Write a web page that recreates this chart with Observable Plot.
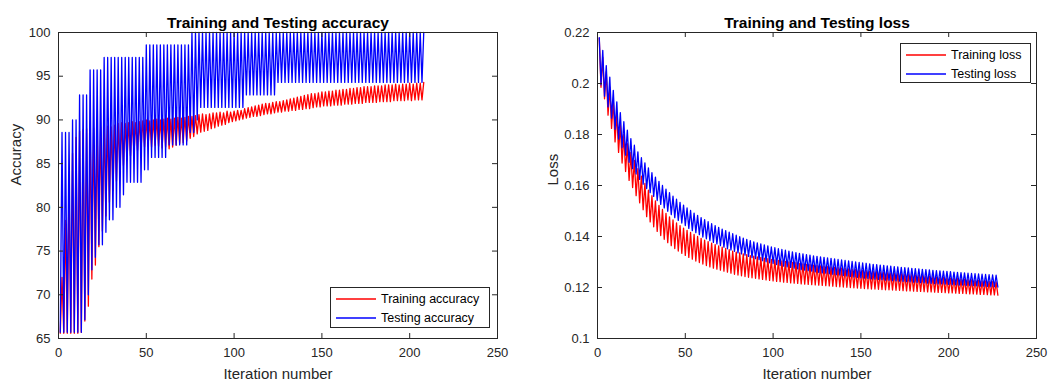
<!DOCTYPE html>
<html>
<head>
<meta charset="utf-8">
<script src="https://cdn.jsdelivr.net/npm/d3@7"></script>
<script src="https://cdn.jsdelivr.net/npm/@observablehq/plot@0.6"></script>
<style>
  html, body { margin: 0; padding: 0; background: #fff; }
  #figure { position: relative; width: 1051px; height: 383px; overflow: hidden;
            font-family: "Liberation Sans", Arial, Helvetica, sans-serif; }
  #figure svg { position: absolute; top: 0; overflow: visible; }
  .legend { position: absolute; box-sizing: border-box; background: #fff;
            border: 1px solid #262626; font-size: 12.5px; color: #000; padding-top: 1px; }
  .legend .row { display: flex; align-items: center; height: 19px; white-space: nowrap; }
  .legend svg { position: static !important; margin: 0 5px 0 5px; }
</style>
</head>
<body>
<div id="figure"></div>
<script>
// ---- Accuracy (%) per iteration: odd iterations hold the dips, even iterations the peaks
const trainAccDip = [
  65.6, 65.6, 65.6, 65.6, 65.6, 65.6, 65.7, 67.0, 68.7, 71.8,
  73.4, 75.5, 77.3, 79.0, 80.6, 81.9, 83.0, 84.0, 84.8, 85.4,
  85.9, 86.2, 86.5, 86.7, 86.9, 87.0, 86.9, 87.1, 87.0, 86.8,
  86.9, 86.7, 86.9, 87.1, 87.3, 87.4, 87.6, 87.9, 88.1, 88.4,
  88.6, 88.7, 88.8, 89.0, 89.1, 89.3, 89.4, 89.5, 89.7, 89.8,
  89.9, 90.0, 90.1, 90.2, 90.3, 90.4, 90.4, 90.5, 90.6, 90.7,
  90.7, 90.8, 90.9, 90.9, 91.0, 91.0, 91.1, 91.1, 91.2, 91.2,
  91.3, 91.3, 91.4, 91.5, 91.5, 91.6, 91.6, 91.6, 91.7, 91.7,
  91.7, 91.8, 91.8, 91.8, 91.9, 91.9, 91.9, 92.0, 92.0, 92.0,
  92.0, 92.1, 92.1, 92.1, 92.1, 92.2, 92.2, 92.2, 92.2, 92.3,
  92.2, 92.3, 92.3, 92.3
];
const trainAccPeak = [
  72.0, 78.5, 83.0, 86.2, 88.0, 88.7, 88.9, 89.0, 89.0, 89.1,
  89.0, 89.2, 89.3, 89.3, 89.2, 89.4, 89.6, 89.7, 89.6, 89.7,
  89.8, 89.7, 89.8, 89.9, 90.0, 89.9, 90.0, 90.1, 90.0, 90.1,
  90.2, 90.1, 90.2, 90.3, 90.2, 90.3, 90.4, 90.4, 90.5, 90.6,
  90.7, 90.6, 90.7, 90.8, 90.8, 90.9, 90.8, 91.0, 90.9, 91.0,
  91.1, 91.1, 91.3, 91.4, 91.5, 91.6, 91.7, 91.8, 91.9, 91.9,
  92.0, 92.1, 92.1, 92.2, 92.3, 92.4, 92.5, 92.6, 92.7, 92.8,
  92.9, 93.0, 93.0, 93.1, 93.2, 93.2, 93.3, 93.3, 93.4, 93.4,
  93.5, 93.5, 93.6, 93.6, 93.7, 93.7, 93.8, 93.8, 93.8, 93.9,
  93.9, 93.9, 94.0, 94.0, 94.0, 94.1, 94.0, 94.1, 94.1, 94.2,
  94.1, 94.2, 94.2, 94.3
];
const testAccDip = [
  65.71, 65.71, 65.71, 65.71, 65.71, 65.71, 65.71, 67.14, 70, 72.86,
  74.29, 75.71, 75.71, 77.14, 78.57, 78.57, 80, 80, 81.43, 82.86,
  82.86, 82.86, 82.86, 82.86, 84.29, 84.29, 85.71, 85.71, 85.71, 85.71,
  85.71, 87.14, 87.14, 87.14, 87.14, 87.14, 87.14, 88.57, 88.57, 90,
  91.43, 91.43, 91.43, 91.43, 91.43, 91.43, 91.43, 91.43, 91.43, 91.43,
  91.43, 91.43, 91.43, 92.86, 92.86, 92.86, 92.86, 92.86, 92.86, 92.86,
  92.86, 92.86, 94.29, 94.29, 94.29, 94.29, 94.29, 94.29, 94.29, 94.29,
  94.29, 94.29, 94.29, 94.29, 94.29, 94.29, 94.29, 94.29, 94.29, 94.29,
  94.29, 94.29, 94.29, 94.29, 94.29, 94.29, 94.29, 94.29, 94.29, 94.29,
  94.29, 94.29, 94.29, 94.29, 94.29, 94.29, 94.29, 94.29, 94.29, 94.29,
  94.29, 94.29, 94.29, 94.29
];
const testAccPeak = [
  88.57, 88.57, 88.57, 90, 90, 92.86, 92.86, 92.86, 95.71, 95.71,
  95.71, 95.71, 97.14, 97.14, 97.14, 97.14, 97.14, 97.14, 97.14, 97.14,
  97.14, 97.14, 97.14, 97.14, 98.57, 98.57, 98.57, 98.57, 98.57, 98.57,
  98.57, 98.57, 98.57, 98.57, 98.57, 98.57, 98.57, 100, 100, 100,
  100, 100, 100, 100, 100, 100, 100, 100, 100, 100,
  100, 100, 100, 100, 100, 100, 100, 100, 100, 100,
  100, 100, 100, 100, 100, 100, 100, 100, 100, 100,
  100, 100, 100, 100, 100, 100, 100, 100, 100, 100,
  100, 100, 100, 100, 100, 100, 100, 100, 100, 100,
  100, 100, 100, 100, 100, 100, 100, 100, 100, 100,
  100, 100, 100, 100
];

// ---- Loss per iteration: odd iterations hold the peaks, even iterations the dips
const trainLossPeak = [
  0.2178, 0.2103, 0.2046, 0.1986, 0.1932, 0.1883, 0.1839, 0.1800, 0.1764, 0.1730,
  0.1698, 0.1666, 0.1637, 0.1608, 0.1582, 0.1560, 0.1540, 0.1522, 0.1506, 0.1491,
  0.1477, 0.1465, 0.1453, 0.1443, 0.1433, 0.1424, 0.1416, 0.1408, 0.1400, 0.1393,
  0.1386, 0.1380, 0.1374, 0.1368, 0.1363, 0.1358, 0.1353, 0.1348, 0.1343, 0.1339,
  0.1336, 0.1332, 0.1329, 0.1325, 0.1323, 0.1320, 0.1318, 0.1315, 0.1313, 0.1310,
  0.1308, 0.1306, 0.1304, 0.1302, 0.1300, 0.1298, 0.1297, 0.1294, 0.1293, 0.1291,
  0.1290, 0.1288, 0.1287, 0.1285, 0.1284, 0.1282, 0.1281, 0.1279, 0.1278, 0.1276,
  0.1275, 0.1273, 0.1272, 0.1270, 0.1269, 0.1267, 0.1266, 0.1264, 0.1263, 0.1262,
  0.1261, 0.1259, 0.1258, 0.1257, 0.1256, 0.1254, 0.1254, 0.1252, 0.1251, 0.1250,
  0.1249, 0.1247, 0.1247, 0.1245, 0.1244, 0.1243, 0.1242, 0.1240, 0.1240, 0.1238,
  0.1237, 0.1236, 0.1235, 0.1233, 0.1233, 0.1231, 0.1230, 0.1229, 0.1228, 0.1226,
  0.1226, 0.1224, 0.1223, 0.1222
];
const trainLossDip = [
  0.1985, 0.1940, 0.1876, 0.1824, 0.1771, 0.1730, 0.1688, 0.1655, 0.1620, 0.1592,
  0.1560, 0.1532, 0.1505, 0.1478, 0.1457, 0.1438, 0.1420, 0.1404, 0.1389, 0.1376,
  0.1364, 0.1353, 0.1343, 0.1334, 0.1326, 0.1318, 0.1311, 0.1304, 0.1298, 0.1292,
  0.1286, 0.1281, 0.1276, 0.1272, 0.1268, 0.1264, 0.1260, 0.1256, 0.1252, 0.1249,
  0.1246, 0.1243, 0.1240, 0.1238, 0.1236, 0.1234, 0.1232, 0.1230, 0.1228, 0.1226,
  0.1224, 0.1223, 0.1221, 0.1220, 0.1218, 0.1217, 0.1216, 0.1214, 0.1213, 0.1212,
  0.1211, 0.1210, 0.1209, 0.1208, 0.1207, 0.1206, 0.1205, 0.1204, 0.1203, 0.1202,
  0.1201, 0.1200, 0.1199, 0.1198, 0.1197, 0.1196, 0.1195, 0.1194, 0.1194, 0.1193,
  0.1192, 0.1191, 0.1191, 0.1190, 0.1189, 0.1189, 0.1188, 0.1187, 0.1187, 0.1186,
  0.1185, 0.1185, 0.1184, 0.1183, 0.1183, 0.1182, 0.1181, 0.1181, 0.1180, 0.1179,
  0.1179, 0.1178, 0.1177, 0.1177, 0.1176, 0.1175, 0.1175, 0.1174, 0.1173, 0.1173,
  0.1172, 0.1171, 0.1171, 0.1170
];
const testLossPeak = [
  0.2180, 0.2130, 0.2070, 0.2025, 0.1973, 0.1928, 0.1886, 0.1850, 0.1817, 0.1784,
  0.1758, 0.1732, 0.1709, 0.1689, 0.1669, 0.1650, 0.1633, 0.1616, 0.1600, 0.1586,
  0.1572, 0.1558, 0.1546, 0.1534, 0.1523, 0.1512, 0.1502, 0.1492, 0.1483, 0.1474,
  0.1466, 0.1458, 0.1450, 0.1443, 0.1436, 0.1429, 0.1423, 0.1417, 0.1411, 0.1405,
  0.1399, 0.1394, 0.1389, 0.1384, 0.1379, 0.1375, 0.1371, 0.1367, 0.1363, 0.1359,
  0.1356, 0.1352, 0.1349, 0.1346, 0.1343, 0.1340, 0.1337, 0.1334, 0.1332, 0.1329,
  0.1327, 0.1324, 0.1322, 0.1320, 0.1318, 0.1316, 0.1314, 0.1312, 0.1310, 0.1308,
  0.1306, 0.1304, 0.1302, 0.1300, 0.1298, 0.1296, 0.1295, 0.1293, 0.1291, 0.1290,
  0.1288, 0.1287, 0.1285, 0.1284, 0.1282, 0.1281, 0.1279, 0.1278, 0.1277, 0.1275,
  0.1274, 0.1273, 0.1271, 0.1270, 0.1269, 0.1267, 0.1266, 0.1265, 0.1264, 0.1263,
  0.1262, 0.1260, 0.1259, 0.1258, 0.1257, 0.1256, 0.1255, 0.1254, 0.1253, 0.1252,
  0.1251, 0.1250, 0.1249, 0.1248
];
const testLossDip = [
  0.1995, 0.1950, 0.1908, 0.1864, 0.1821, 0.1782, 0.1748, 0.1719, 0.1691, 0.1666,
  0.1645, 0.1624, 0.1605, 0.1588, 0.1572, 0.1557, 0.1541, 0.1526, 0.1512, 0.1499,
  0.1486, 0.1474, 0.1463, 0.1453, 0.1443, 0.1432, 0.1423, 0.1415, 0.1407, 0.1398,
  0.1391, 0.1384, 0.1377, 0.1371, 0.1364, 0.1358, 0.1352, 0.1347, 0.1342, 0.1336,
  0.1332, 0.1327, 0.1322, 0.1317, 0.1313, 0.1309, 0.1305, 0.1301, 0.1297, 0.1294,
  0.1290, 0.1287, 0.1284, 0.1281, 0.1279, 0.1276, 0.1273, 0.1270, 0.1268, 0.1266,
  0.1264, 0.1261, 0.1259, 0.1257, 0.1256, 0.1254, 0.1252, 0.1250, 0.1249, 0.1247,
  0.1245, 0.1243, 0.1241, 0.1240, 0.1238, 0.1237, 0.1236, 0.1234, 0.1233, 0.1232,
  0.1231, 0.1229, 0.1229, 0.1227, 0.1226, 0.1225, 0.1224, 0.1223, 0.1222, 0.1221,
  0.1220, 0.1219, 0.1218, 0.1217, 0.1216, 0.1215, 0.1214, 0.1214, 0.1213, 0.1212,
  0.1211, 0.1210, 0.1209, 0.1209, 0.1208, 0.1207, 0.1207, 0.1206, 0.1205, 0.1205,
  0.1204, 0.1203, 0.1203, 0.1202
];

// ---- Axis ticks and labels
const iterationTicks = [0, 50, 100, 150, 200, 250];
const accuracyTicks = [65, 70, 75, 80, 85, 90, 95, 100];
const lossTicks = [0.1, 0.12, 0.14, 0.16, 0.18, 0.2, 0.22];
const seriesNamesAcc = ["Training accuracy", "Testing accuracy"];
const seriesNamesLoss = ["Training loss", "Testing loss"];
const titles = ["Training and Testing accuracy", "Training and Testing loss"];
const xLabel = "Iteration number";
const yLabels = ["Accuracy", "Loss"];

const RED = "#ff0000", BLUE = "#0000ff", AXIS = "#262626";
const H = 383, MT = 32, MB = 45, TICK = 5;

// interleave two per-pair lists into one per-iteration sequence
function zigzag(first, second) {
  const out = [];
  first.forEach((v, k) => {
    out.push({iteration: 2 * k + 1, value: v});
    out.push({iteration: 2 * k + 2, value: second[k]});
  });
  return out;
}

function panel({width, marginLeft, marginRight, yDomain, yTicks, yFormat, series, title, yLabel, yLabelDx}) {
  const frameW = width - marginLeft - marginRight;
  const frameH = H - MT - MB;
  return Plot.plot({
    width, height: H, marginLeft, marginRight, marginTop: MT, marginBottom: MB,
    style: {background: "#fff", color: AXIS, fontSize: "13px",
            fontFamily: "'Liberation Sans', Arial, Helvetica, sans-serif"},
    x: {domain: [0, 250]},
    y: {domain: yDomain},
    marks: [
      ...series.map(s => Plot.line(s.data, {x: "iteration", y: "value", stroke: s.color, strokeWidth: 1.3})),
      Plot.frame({stroke: AXIS, strokeWidth: 1}),
      Plot.tickX(iterationTicks, {x: d => d, insetTop: frameH - TICK, stroke: AXIS}),
      Plot.tickX(iterationTicks, {x: d => d, insetBottom: frameH - TICK, stroke: AXIS}),
      Plot.tickY(yTicks, {y: d => d, insetRight: frameW - TICK, stroke: AXIS}),
      Plot.tickY(yTicks, {y: d => d, insetLeft: frameW - TICK, stroke: AXIS}),
      Plot.axisX(iterationTicks, {tickSize: 0, tickPadding: 9, label: null}),
      Plot.axisY(yTicks, {tickSize: 0, tickPadding: 8, label: null, tickFormat: yFormat}),
      Plot.text([title], {frameAnchor: "top", dy: -5, lineAnchor: "bottom",
                          fontWeight: "bold", fontSize: 15.5, fill: "#000"}),
      Plot.text([xLabel], {frameAnchor: "bottom", dy: 40, lineAnchor: "bottom", fontSize: 15, fill: AXIS}),
      Plot.text([yLabel], {frameAnchor: "left", dx: yLabelDx, rotate: -90, lineAnchor: "bottom",
                           fontSize: 15, fill: AXIS})
    ]
  });
}

function legend(names, colors, box) {
  const div = document.createElement("div");
  div.className = "legend";
  Object.assign(div.style, {left: box.left + "px", top: box.top + "px",
                            width: box.width + "px", height: box.height + "px"});
  names.forEach((name, i) => {
    const row = document.createElement("div");
    row.className = "row";
    row.innerHTML = `<svg width="40" height="6"><line x1="0" y1="3" x2="40" y2="3" stroke="${colors[i]}" stroke-width="1.3"/></svg><span>${name}</span>`;
    div.appendChild(row);
  });
  return div;
}

const fig = document.getElementById("figure");

const acc = panel({
  width: 525, marginLeft: 58, marginRight: 28,
  yDomain: [65, 100], yTicks: accuracyTicks, yFormat: d => String(d),
  series: [
    {data: zigzag(trainAccDip, trainAccPeak), color: RED},
    {data: zigzag(testAccDip, testAccPeak), color: BLUE}
  ],
  title: titles[0], yLabel: yLabels[0], yLabelDx: -38
});
acc.style.left = "0px";
fig.appendChild(acc);

const loss = panel({
  width: 526, marginLeft: 72, marginRight: 15,
  yDomain: [0.1, 0.22], yTicks: lossTicks, yFormat: d => String(+d.toFixed(2)),
  series: [
    {data: zigzag(trainLossPeak, trainLossDip), color: RED},
    {data: zigzag(testLossPeak, testLossDip), color: BLUE}
  ],
  title: titles[1], yLabel: yLabels[1], yLabelDx: -40
});
loss.style.left = "525px";
fig.appendChild(loss);

fig.appendChild(legend(seriesNamesAcc, [RED, BLUE], {left: 330, top: 287, width: 160, height: 41}));
fig.appendChild(legend(seriesNamesLoss, [RED, BLUE], {left: 900, top: 43, width: 131, height: 40}));
</script>
</body>
</html>
